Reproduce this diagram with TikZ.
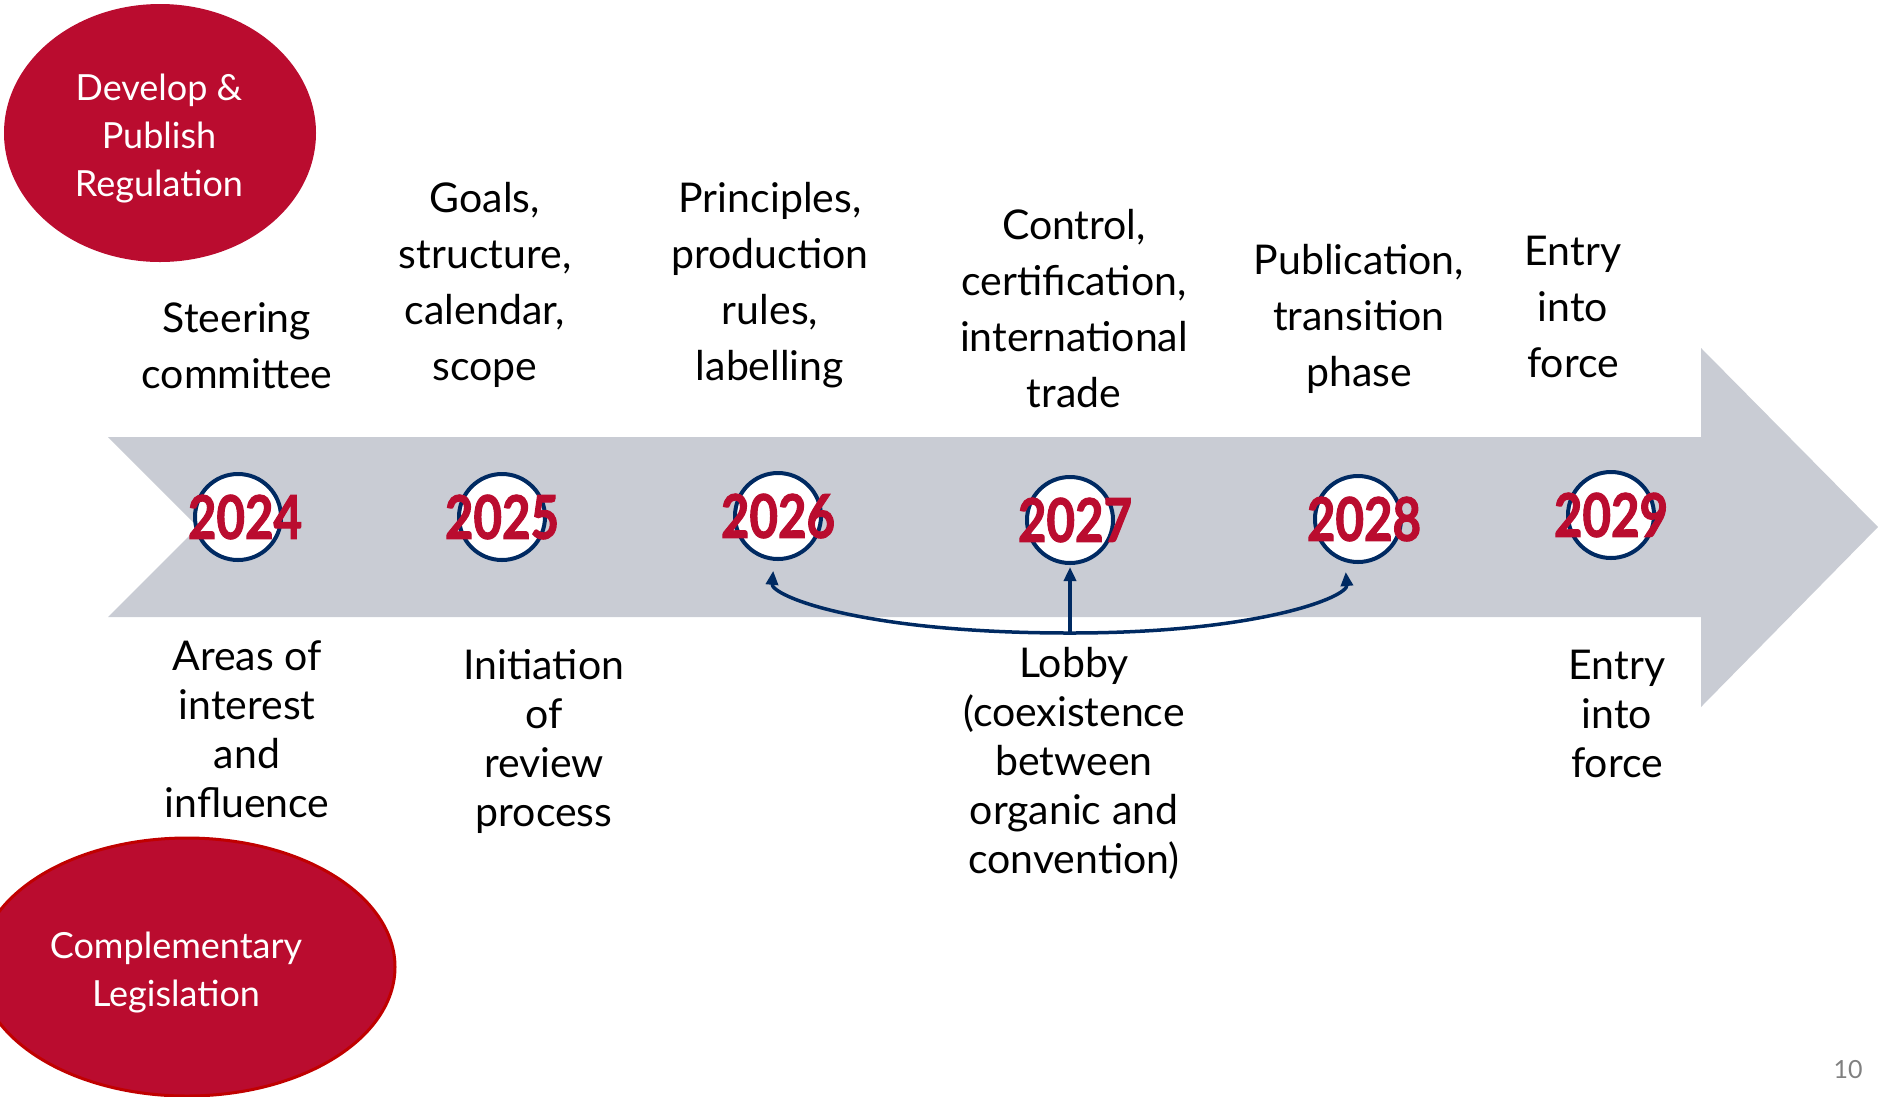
\documentclass[tikz,border=0pt]{standalone}
\usepackage{fontspec}
\setmainfont{Lato}
\newfontfamily\yearfont[BoldFeatures={FakeBold=2}]{Lato}
\usetikzlibrary{arrows.meta,shapes.geometric}

\definecolor{crimson}{RGB}{186,12,47}
\definecolor{bandgray}{RGB}{201,204,212}
\definecolor{navy}{RGB}{0,42,98}
\definecolor{rimred}{RGB}{192,0,0}

\tikzset{
  toptext/.style={align=center, font=\fontsize{41}{56}\selectfont},
  bottext/.style={align=center, font=\fontsize{41}{49}\selectfont},
  yearring/.style={circle, draw=navy, line width=4pt, fill=white, minimum size=86pt, inner sep=0pt},
  yeartext/.style={text=crimson, font=\fontsize{60}{60}\selectfont\yearfont\bfseries},
  phase/.style={ellipse, fill=crimson, text=white, inner sep=0pt, align=center,
    font=\fontsize{36}{48}\selectfont},
  lobbyline/.style={draw=navy, line width=3.5pt, -{Triangle[length=14pt,width=12pt]}}
}

\newcommand{\yr}[1]{\scalebox{0.82}[1]{#1}}

\begin{document}
\begin{tikzpicture}[x=1pt, y=-1pt]
      \useasboundingbox (0, 0) rectangle (1878, 1096);

      % timeline band
      \fill [bandgray] (108, 437) -- (1701, 437) -- (1701, 348) -- (1878, 527)
        -- (1701, 707) -- (1701, 617) -- (108, 617) -- (198, 527) -- cycle;

      % phases
      \node [phase, minimum width=312pt, minimum height=258pt] (develop) at (160, 133) {};
      \node [text=white, align=center, font=\fontsize{36}{48}\selectfont] (developtext) at (159, 139) {Develop \&\\Publish\\Regulation};
      \node [phase, draw=rimred, line width=3pt, minimum width=416pt, minimum height=258pt] (complementary) at (187, 967) {};
      \node [text=white, align=center, font=\fontsize{36}{48}\selectfont] (complementarytext) at (176, 973) {Complementary\\Legislation};

      % years
      \node [yearring] (y2024) at (238, 517) {};
      \node [yeartext] (t2024) at ([xshift=7pt]y2024) {\yr{2024}};
      \node [yearring] (y2025) at (502, 517) {};
      \node [yeartext] (t2025) at (y2025) {\yr{2025}};
      \node [yearring] (y2026) at (778, 516) {};
      \node [yeartext] (t2026) at (y2026) {\yr{2026}};
      \node [yearring] (y2027) at (1070, 520) {};
      \node [yeartext] (t2027) at ([xshift=5pt]y2027) {\yr{2027}};
      \node [yearring] (y2028) at (1358, 519) {};
      \node [yeartext] (t2028) at ([xshift=6pt]y2028) {\yr{2028}};
      \node [yearring] (y2029) at (1611, 515) {};
      \node [yeartext] (t2029) at (y2029) {\yr{2029}};

      % above the band
      \node [toptext] (steering) at (237, 346) {Steering\\committee};
      \node [toptext] (goals) at (485, 285) {Goals,\\structure,\\calendar,\\scope};
      \node [toptext] (principles) at (770, 285) {Principles,\\production\\rules,\\labelling};
      \node [toptext] (control) at (1074, 309) {Control,\\certification,\\international\\trade};
      \node [toptext] (publication) at (1359, 319) {Publication,\\transition\\phase};
      \node [toptext] (entrytop) at (1573, 307) {Entry\\into\\force};

      % below the band
      \node [bottext] (areas) at (247, 729) {Areas of\\interest\\and\\influence};
      \node [bottext] (initiation) at (544, 741) {Initiation\\of\\review\\process};
      \node [bottext] (lobby) at (1074, 763) {Lobby\\(coexistence\\between\\organic and\\convention)};
      \node [bottext] (entrybottom) at (1617, 714) {Entry\\into\\force};

      % lobby arrows
      \coordinate (split) at (1070, 633);
      \draw [lobbyline, shorten >=10pt] (split) to [out=180, in=-95, out distance=210pt, in distance=35pt] (y2026.265);
      \draw [lobbyline, shorten >=2pt] (split) -- (y2027.south);
      \draw [lobbyline, shorten >=10pt] (split) to [out=0, in=-85, out distance=190pt, in distance=35pt] (y2028.253);

      \node [text=gray, font=\fontsize{25}{25}\selectfont] (pagenum) at (1848, 1070) {10};
    \end{tikzpicture}
\end{document}
